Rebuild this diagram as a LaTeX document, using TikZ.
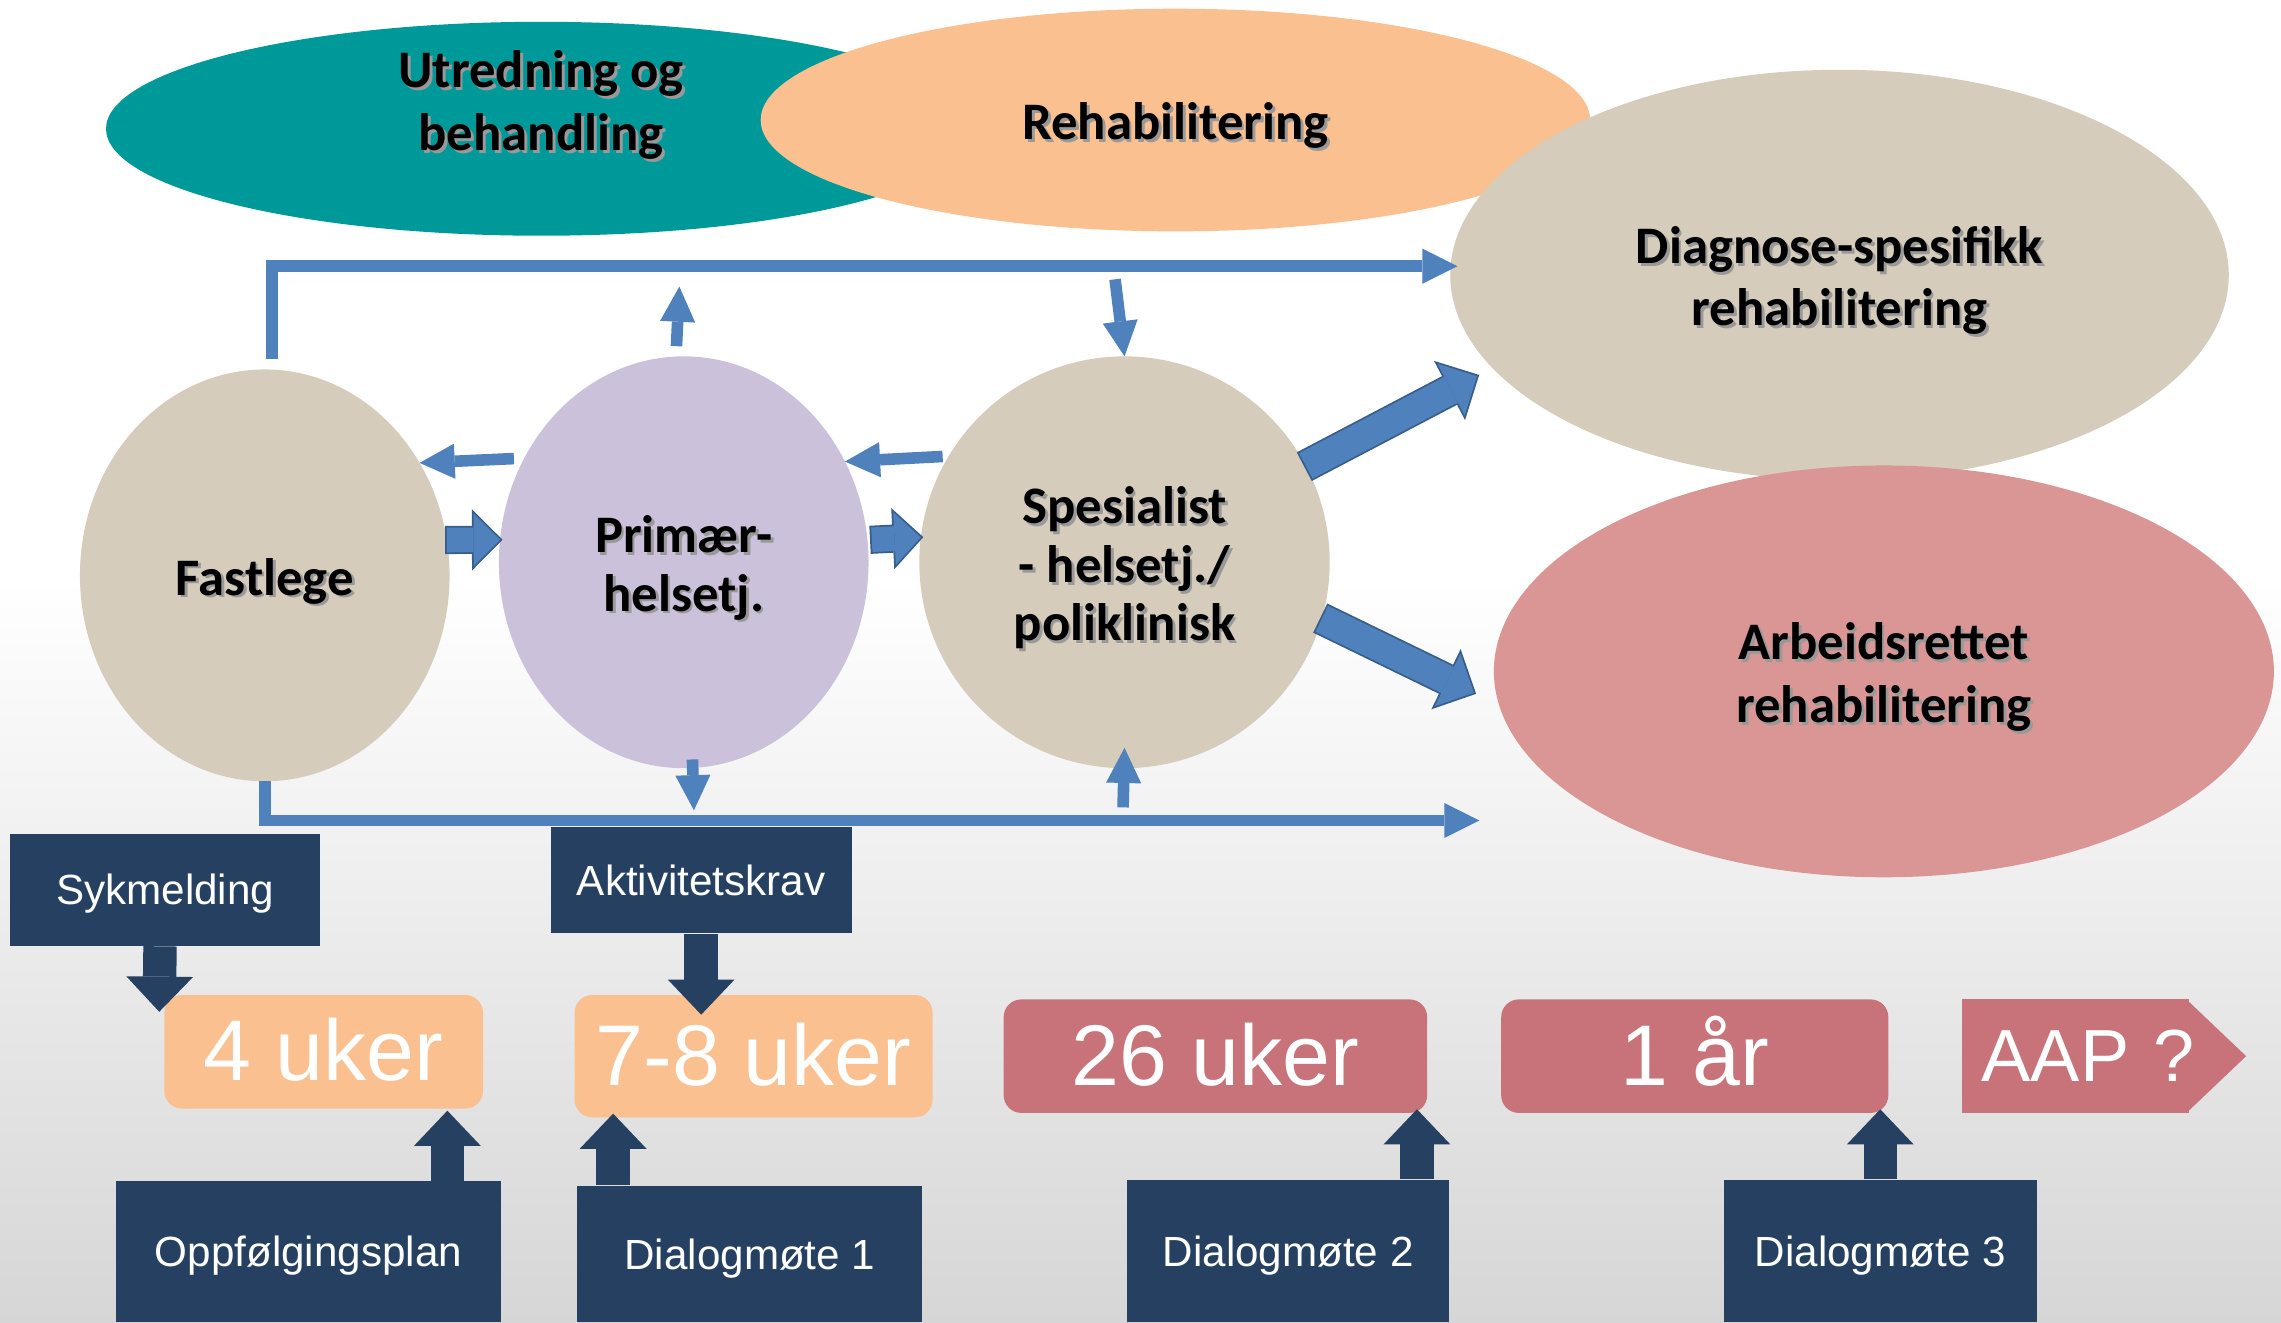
\documentclass[tikz,border=0pt]{standalone}
\usepackage{fontspec}
\setmainfont{Liberation Sans}
\newfontfamily\carl{Carlito}
\usetikzlibrary{arrows.meta,calc,shapes.geometric}

\definecolor{teal1}{HTML}{009999}
\definecolor{peach}{HTML}{FAC090}
\definecolor{tan1}{HTML}{D6CCBB}
\definecolor{lav}{HTML}{CCC1DA}
\definecolor{rose}{HTML}{DA9694}
\definecolor{blu}{HTML}{4F81BD}
\definecolor{bluedge}{HTML}{385D8A}
\definecolor{navy}{HTML}{254061}
\definecolor{redbox}{HTML}{C87379}
\definecolor{bgbot}{HTML}{D6D6D6}

% one unit of the drawing grid
\newcommand\px{0.4139pt}
\newcommand\bigbold{\carl\bfseries\fontsize{15}{17.8}\selectfont}
\newcommand\circbold{\carl\bfseries\fontsize{15}{16.6}\selectfont}
% text with a soft drop shadow, set a little lower on its line
\newcommand\shd[1]{\raisebox{-2pt}[\height][\depth]{\makebox[0pt][l]{\hspace*{0.8pt}\raisebox{-0.8pt}{\color{black!40}#1}}#1}}

\tikzset{
  blob/.style={ellipse, inner sep=0pt, outer sep=0pt, align=center},
  thinarr/.style={draw=blu, line width=3.3pt,
    -{Triangle[length=10pt,width=10pt,line width=0pt]}},
  blkA/.style={draw=blu, line width=7pt,
    -{Triangle[length=7.5pt,width=15pt,line width=0pt]},
    preaction={draw=bluedge, line width=8pt, shorten <=-0.5pt, shorten >=-0.71pt,
      -{Triangle[length=8.71pt,width=17.42pt,line width=0pt]}}},
  blkB/.style={draw=blu, line width=8.2pt,
    -{Triangle[length=8.3pt,width=16.6pt,line width=0pt]},
    preaction={draw=bluedge, line width=9.2pt, shorten <=-0.5pt, shorten >=-0.71pt,
      -{Triangle[length=9.51pt,width=19.02pt,line width=0pt]}}},
  navybox/.style={fill=navy, text=white, font=\fontsize{12}{14}\selectfont, inner sep=0pt,
    text height=8.6pt, text depth=0pt},
  navarr/.style={draw=navy, line width=9.5pt,
    -{Triangle[length=10pt,width=19pt,line width=0pt]}},
  weekbox/.style={rounded corners=5pt, text=white,
    font=\fontsize{24.5}{28}\selectfont, inner sep=0pt, text height=16.5pt, text depth=0pt},
}

\begin{document}
\begin{tikzpicture}[x=0.014547cm, y=-0.014547cm]
% background
\fill[white] (0,0) rectangle (1568,400);
\shade[top color=white, bottom color=bgbot] (0,399) rectangle (1568,909);
\useasboundingbox (0,0) rectangle (1568,909);

% upper ellipses
\node[blob, fill=teal1, minimum width=598*\px, minimum height=147*\px,
  label={[name=utrtxt, font=\bigbold, align=center, yshift=8.3pt]center:{\shd{Utredning og}\\\shd{behandling}}}]
  (utr) at (372,88.5) {};
\node[blob, fill=peach, minimum width=570*\px, minimum height=153*\px, font=\bigbold]
  (rehab) at (808,82.5) {\shd{Rehabilitering}};
\node[blob, fill=tan1, minimum width=535*\px, minimum height=282*\px, font=\bigbold]
  (diag) at (1264.5,189) {\shd{Diagnose-spesifikk}\\\shd{rehabilitering}};
\node[blob, fill=rose, minimum width=536*\px, minimum height=283*\px, font=\bigbold]
  (arbe) at (1295,461.5) {\shd{Arbeidsrettet}\\\shd{rehabilitering}};

% care levels
\node[blob, fill=tan1, minimum width=254*\px, minimum height=283*\px, font=\circbold]
  (fast) at (182,395.5) {\shd{Fastlege}};
\node[blob, fill=lav, minimum width=254*\px, minimum height=283*\px, font=\circbold]
  (prim) at (470,386.5) {\shd{Primær-}\\\shd{helsetj.}};
\node[blob, fill=tan1, minimum width=282*\px, minimum height=283*\px, font=\circbold]
  (spes) at (773,386.5) {\shd{Spesialist}\\\shd{- helsetj./}\\\shd{poliklinisk}};

% outer brackets
\draw[thinarr] ($(fast.north)+(5,-7)$) |- ($(diag.west)+(5,-6)$);
\coordinate (botend) at (1017,564);
\draw[thinarr] (fast.south) |- (botend);

% short vertical arrows
\coordinate (primup) at (467,197);
\draw[thinarr] ($(prim.north)+(-5,-7)$) -- (primup);
\coordinate (spdn) at (766.5,192);
\draw[thinarr] (spdn) -- (spes.north);
\coordinate (primdn) at (477,557);
\draw[thinarr] ($(prim.south)+(6,-6)$) -- (primdn);
\coordinate (spup) at (772,555);
\draw[thinarr] (spup) -- ($(spes.south)+(0,-14)$);

% arrows back towards the GP
\draw[thinarr] ($(prim.147)+(-7,0)$) -- (fast.36);
\draw[thinarr] ($(spes.149)+(-4,0)$) -- (prim.32);

% block arrows forward
\draw[blkA] (fast.11) -- (prim.173);
\draw[blkA] ($(prim.7)+(3,0)$) -- (spes.173);
\draw[blkB] (spes.28) -- ($(diag.195)!5pt!(spes.28)$);
\draw[blkB] (spes.344) -- ($(arbe.185)!8pt!(spes.344)$);

% time line
\node[weekbox, fill=peach, minimum width=219*\px, minimum height=78*\px] (u4) at (222.5,723) {4 uker};
\node[weekbox, fill=peach, minimum width=246*\px, minimum height=84*\px] (u78) at (518,726) {7-8 uker};
\node[weekbox, fill=redbox, minimum width=291*\px, minimum height=78*\px] (u26) at (835.5,726) {26 uker};
\node[weekbox, fill=redbox, minimum width=266*\px, minimum height=78*\px] (a1) at (1165,726) {1 år};
\fill[redbox] (1503,687) -- (1544,726) -- (1503,765) -- cycle;
\node[fill=redbox, text=white, font=\fontsize{21}{24}\selectfont, inner sep=0pt,
  text width=156*\px, align=right, minimum height=78*\px] (aap) at (1427,726) {AAP ?\hspace*{-1.6pt}};

% events
\node[navybox, minimum width=213*\px, minimum height=77*\px] (syk) at (113.5,611.5) {Sykmelding};
\node[navybox, minimum width=207*\px, minimum height=73*\px] (akt) at (482,605) {Aktivitetskrav};
\node[navybox, minimum width=264*\px, minimum height=97*\px] (opp) at (212,860.5) {Oppfølgingsplan};
\node[navybox, minimum width=237*\px, minimum height=94*\px] (d1) at (515.5,862) {Dialogmøte 1};
\node[navybox, minimum width=221*\px, minimum height=98*\px] (d2) at (885.5,860) {Dialogmøte 2};
\node[navybox, minimum width=215*\px, minimum height=98*\px] (d3) at (1292.5,860) {Dialogmøte 3};

\draw[navarr] ($(syk.south)+(-3.5,0)$) -- ($(u4.north west)+(-3,12)$);
\draw[navarr] (akt.south) -- ($(akt.south |- u78.north)+(0,14)$);
\draw[navarr] ($(opp.north east)+(-37,0)$) -- ($(opp.north east |- u4.south)+(-37,1)$);
\draw[navarr] ($(d1.north west)+(25,0)$) -- ($(d1.north west |- u78.south)+(25,-3)$);
\draw[navarr] ($(d2.north east)+(-22.5,0)$) -- ($(d2.north east |- u26.south)+(-22.5,-3)$);
\draw[navarr] (d3.north) -- ($(d3.north |- a1.south)+(0,-3)$);
\end{tikzpicture}
\end{document}
